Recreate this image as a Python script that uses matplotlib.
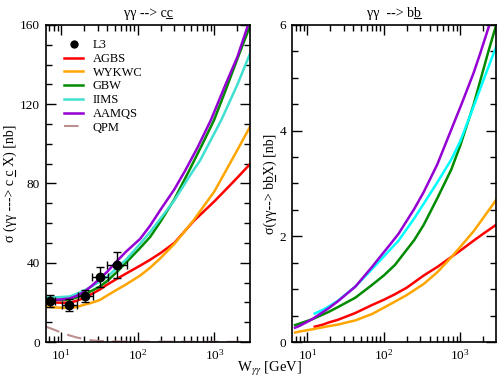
import matplotlib
matplotlib.use("Agg")
import matplotlib.pyplot as plt
from matplotlib.lines import Line2D
from matplotlib.transforms import IdentityTransform
from matplotlib.ticker import LogLocator, MultipleLocator, NullFormatter

OUTPUT = "out.png"

# =========================
# DATA  (gamma gamma -> c cbar)
# =========================
l3_w = [7.2, 12.8, 20.5, 32.3, 53.8]
l3_sig = [20.6, 18.7, 23.3, 33.0, 39.0]
l3_werr_lo = [0.9, 2.6, 3.7, 7.2, 14.3]
l3_werr_hi = [1.2, 3.2, 5.4, 9.1, 19.6]
l3_sigerr = [3.0, 3.0, 3.2, 5.0, 6.5]

cc_agbs_w = [6.3, 8, 10, 13, 16, 20, 25, 32, 40, 54, 70, 107, 145, 200, 300, 535, 1000, 1500, 2000, 2950]
cc_agbs = [20.3, 20.0, 19.8, 19.9, 20.8, 22.3, 24.2, 26.5, 29, 32, 34.5, 38.5, 41.5, 45, 50, 61, 71, 78, 83, 90]

cc_wykwc_w = [6.3, 8, 10, 13, 16, 20, 25, 32, 40, 54, 70, 107, 145, 200, 300, 525, 1000, 1420, 2000, 2950]
cc_wykwc = [17.8, 17.5, 17.3, 17.2, 17.7, 18.8, 19.8, 21.2, 23.5, 26.5, 29, 33.5, 37.5, 42.5, 49.5, 61, 76, 86.6, 97, 109]

cc_gbw_w = [6.3, 8, 10, 13, 16, 20, 25, 32, 40, 54, 70, 107, 145, 200, 300, 470, 700, 990, 1400, 2000, 2950]
cc_gbw = [21.8, 21.3, 21.2, 21.5, 22.5, 24, 25.8, 28, 30.8, 35.5, 40, 47.4, 53, 61, 72, 86.6, 100, 112, 127, 143, 160]

cc_iims_w = [6.3, 8, 10, 13, 16, 20, 25, 32, 40, 54, 70, 107, 145, 200, 300, 530, 650, 1230, 2000, 2950]
cc_iims = [22.5, 22.5, 22.7, 23, 24.3, 26, 28, 30.5, 33, 37.5, 41.5, 49.5, 55.5, 62.5, 71.5, 86.6, 91.6, 112, 130, 146]

cc_aamqs_w = [6.3, 8, 10, 13, 16, 20, 25, 32, 40, 54, 70, 107, 145, 200, 300, 417, 600, 900, 1400, 2000, 2750]
cc_aamqs = [21.3, 21.3, 21.5, 22.0, 23.3, 25.3, 28.3, 32, 35.5, 41, 45.5, 52, 58.7, 67, 77, 86.6, 98, 112, 130, 144, 160]

cc_qpm_w = [6.3, 8, 10, 13, 16, 20, 25, 32, 50, 100, 1000, 2950]
cc_qpm = [7.8, 6.3, 4.8, 3.3, 2.3, 1.5, 0.9, 0.5, 0.3, 0.2, 0.1, 0.1]

# =========================
# DATA  (gamma gamma -> b bbar)
# =========================
bb_agbs_w = [12.5, 16, 19, 25, 42.5, 70, 100, 138, 200, 333, 500, 780, 1000, 1500, 2000, 2950]
bb_agbs = [0.29, 0.33, 0.37, 0.42, 0.55, 0.70, 0.80, 0.90, 1.03, 1.26, 1.42, 1.62, 1.73, 1.92, 2.05, 2.22]

bb_wykwc_w = [6.9, 8, 11.5, 19, 25, 42.5, 70, 100, 138, 200, 333, 500, 780, 1000, 1500, 2000, 2950]
bb_wykwc = [0.18, 0.20, 0.24, 0.30, 0.33, 0.41, 0.53, 0.65, 0.76, 0.89, 1.10, 1.32, 1.62, 1.80, 2.10, 2.35, 2.69]

bb_gbw_w = [6.9, 11.5, 19, 25, 42.5, 70, 100, 140, 250, 333, 500, 760, 1000, 1500, 2300, 2950]
bb_gbw = [0.32, 0.43, 0.57, 0.66, 0.84, 1.08, 1.26, 1.46, 1.93, 2.22, 2.72, 3.26, 3.72, 4.50, 5.47, 6.0]

bb_iims_w = [12.5, 16, 19, 25, 42.5, 70, 100, 123, 156, 250, 333, 500, 760, 1000, 1400, 2000, 2950]
bb_iims = [0.54, 0.61, 0.67, 0.78, 1.05, 1.38, 1.62, 1.76, 1.92, 2.34, 2.62, 3.02, 3.45, 3.80, 4.35, 4.95, 5.59]

bb_aamqs_w = [6.9, 8, 11.5, 19, 25, 42.5, 70, 100, 123, 156, 250, 333, 500, 1050, 1500, 1830, 2400]
bb_aamqs = [0.27, 0.31, 0.43, 0.64, 0.77, 1.05, 1.42, 1.70, 1.86, 2.05, 2.52, 2.84, 3.36, 4.52, 5.10, 5.47, 6.0]

# =========================
# STYLE
# =========================
plt.rcParams['font.family'] = ['Liberation Serif', 'DejaVu Serif']
plt.rcParams['mathtext.fontset'] = 'stix'
plt.rcParams['font.size'] = 9

RED = "#ff0000"
ORANGE = "#ffa500"
GREEN = "#008b00"
TURQ = "#40e0d0"
CYAN = "#00ffff"
VIOLET = "#9400d3"
QPM = "#bc8f8f"
LW = 1.8


def style_axis(ax, ymax, ymajor, yminor):
    ax.set_xscale("log")
    ax.set_xlim(6.3, 2950)
    ax.set_ylim(0, ymax)
    ax.xaxis.set_major_locator(LogLocator(base=10, numticks=10))
    ax.xaxis.set_minor_locator(LogLocator(base=10, subs=range(2, 10), numticks=20))
    ax.xaxis.set_minor_formatter(NullFormatter())
    ax.yaxis.set_major_locator(MultipleLocator(ymajor))
    ax.yaxis.set_minor_locator(MultipleLocator(yminor))
    ax.tick_params(which="both", direction="in", top=True, right=True, width=1.0)
    ax.tick_params(which="major", length=7, labelsize=9.5, pad=4)
    ax.tick_params(which="minor", length=4)
    for s in ax.spines.values():
        s.set_linewidth(1.2)


def underline_char(fig, txt, idx, vertical=False):
    # draw a short underline below character idx of a Text object
    r = fig.canvas.get_renderer()
    s = txt.get_text()
    prop = txt.get_fontproperties()
    w_pre, _, _ = r.get_text_width_height_descent(s[:idx], prop, ismath=False)
    w_ch, _, _ = r.get_text_width_height_descent(s[:idx + 1], prop, ismath=False)
    _, _, desc = r.get_text_width_height_descent(s, prop, ismath=False)
    bb = txt.get_window_extent(r)
    if vertical:
        x = bb.x1 - desc + 1.2
        xs, ys = [x, x], [bb.y0 + w_pre, bb.y0 + w_ch]
    else:
        y = bb.y0 + desc - 1.2
        xs, ys = [bb.x0 + w_pre, bb.x0 + w_ch], [y, y]
    fig.add_artist(Line2D(xs, ys, color="black", lw=0.8, transform=IdentityTransform()))


fig = plt.figure(figsize=(4.98, 3.9), dpi=100)
ax1 = fig.add_axes([0.0918, 0.123, 0.411, 0.813])
ax2 = fig.add_axes([0.5864, 0.123, 0.410, 0.813])

# =========================
# LEFT: c cbar
# =========================
ax1.errorbar(l3_w, l3_sig, xerr=[l3_werr_lo, l3_werr_hi], yerr=l3_sigerr,
             fmt="o", color="black", ms=6, elinewidth=1, capsize=3, zorder=5)
ax1.plot(cc_agbs_w, cc_agbs, color=RED, lw=LW)
ax1.plot(cc_wykwc_w, cc_wykwc, color=ORANGE, lw=LW)
ax1.plot(cc_gbw_w, cc_gbw, color=GREEN, lw=LW)
ax1.plot(cc_iims_w, cc_iims, color=TURQ, lw=LW)
ax1.plot(cc_aamqs_w, cc_aamqs, color=VIOLET, lw=LW)
ax1.plot(cc_qpm_w, cc_qpm, color=QPM, lw=1.5, ls=(0, (7, 4)))

style_axis(ax1, 160, 40, 10)
t1 = ax1.set_title("γγ --> cc", fontsize=10, pad=6)
y1 = ax1.set_ylabel("σ (γγ ---> c c X) [nb]", fontsize=10, labelpad=2)

handles = [
    Line2D([0], [0], marker="o", color="w", markerfacecolor="black", markersize=7, label="L3"),
    Line2D([0], [0], color=RED, lw=LW, label="AGBS"),
    Line2D([0], [0], color=ORANGE, lw=LW, label="WYKWC"),
    Line2D([0], [0], color=GREEN, lw=LW, label="GBW"),
    Line2D([0], [0], color=TURQ, lw=LW, label="IIMS"),
    Line2D([0], [0], color=VIOLET, lw=LW, label="AAMQS"),
    Line2D([0], [0], color=QPM, lw=1.5, ls=(0, (7, 4)), label="QPM"),
]
ax1.legend(handles=handles, loc="upper left", bbox_to_anchor=(0.09, 0.955),
           frameon=False, fontsize=9, handlelength=1.5, handletextpad=0.8,
           labelspacing=0.14, borderpad=0, borderaxespad=0)

# =========================
# RIGHT: b bbar
# =========================
ax2.plot(bb_agbs_w, bb_agbs, color=RED, lw=LW)
ax2.plot(bb_wykwc_w, bb_wykwc, color=ORANGE, lw=LW)
ax2.plot(bb_gbw_w, bb_gbw, color=GREEN, lw=LW)
ax2.plot(bb_iims_w, bb_iims, color=CYAN, lw=LW)
ax2.plot(bb_aamqs_w, bb_aamqs, color=VIOLET, lw=LW)

style_axis(ax2, 6, 2, 0.5)
t2 = ax2.set_title("γγ  --> bb", fontsize=10, pad=6)
y2 = ax2.set_ylabel("σ(γγ--> bbX) [nb]", fontsize=10, labelpad=2)

fig.text(270 / 498, 12 / 390, r"W$_{\gamma\gamma}$ [GeV]", ha="center", va="bottom", fontsize=10.5)

# =========================
# UNDERLINED ANTI-QUARKS
# =========================
fig.canvas.draw()
underline_char(fig, t1, len("γγ --> c"))
underline_char(fig, y1, len("σ (γγ ---> c "), vertical=True)
underline_char(fig, t2, len("γγ  --> b"))
underline_char(fig, y2, len("σ(γγ--> b"), vertical=True)

fig.savefig(OUTPUT, dpi=100)
print(f"saved to {OUTPUT}")
